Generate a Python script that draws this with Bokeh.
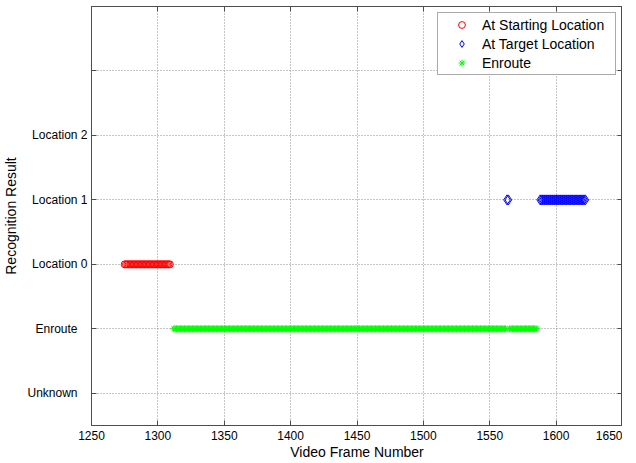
from bokeh.plotting import figure
from bokeh.models import LinearAxis, FixedTicker, Range1d, Legend, LegendItem
from bokeh.embed import file_html
from bokeh.resources import INLINE

# ---- data (frame runs: first, last frame of each consecutive run) ----
start_runs = [(1275, 1309)]
target_runs = [(1563, 1564), (1588, 1622)]
enroute_runs = [(1312, 1562), (1565, 1585)]

start_level = 1      # Location 0
target_level = 2     # Location 1
enroute_level = 0    # Enroute

y_ticks = [-1, 0, 1, 2, 3, 4]
y_tick_labels = ["Unknown\u00a0\u00a0\u00a0", "Enroute\u00a0\u00a0\u00a0", "Location 0",
                 "Location 1", "Location 2", ""]
x_ticks = [1250, 1300, 1350, 1400, 1450, 1500, 1550, 1600, 1650]

series_names = ["At Starting Location", "At Target Location", "Enroute"]


def expand(runs):
    out = []
    for a, b in runs:
        out.extend(range(a, b + 1))
    return out


FONT = "Liberation Sans"
AXC = "#4d4d4d"

p = figure(frame_width=531, frame_height=419, output_backend="svg",
           toolbar_location=None,
           x_range=Range1d(1250, 1650), y_range=Range1d(-1.5, 5),
           min_border_left=0, min_border_right=0, min_border_top=6,
           min_border_bottom=0, background_fill_color="white",
           border_fill_color="white")
p.outline_line_color = AXC
p.outline_line_width = 1

for ax, ticks in ((p.xaxis[0], x_ticks), (p.yaxis[0], y_ticks)):
    ax.ticker = FixedTicker(ticks=ticks)
    ax.major_tick_in = 5
    ax.major_tick_out = 0
    ax.minor_tick_line_color = None
    ax.axis_line_color = AXC
    ax.major_tick_line_color = AXC
    ax.major_label_text_font = FONT
    ax.major_label_text_font_size = "12px"
    ax.major_label_text_color = "black"
    ax.axis_label_text_font = FONT
    ax.axis_label_text_font_size = "14px"
    ax.axis_label_text_font_style = "normal"
    ax.axis_label_text_color = "black"

p.xaxis[0].axis_label = "Video Frame Number"
p.xaxis[0].major_label_standoff = 5
p.xaxis[0].axis_label_standoff = 1
p.yaxis[0].axis_label = "Recognition Result"
p.yaxis[0].major_label_standoff = 4
p.yaxis[0].axis_label_standoff = 5
p.yaxis[0].major_label_overrides = {t: l for t, l in zip(y_ticks, y_tick_labels)}

for loc, ticks in (("right", y_ticks), ("above", x_ticks)):
    ax = LinearAxis(ticker=FixedTicker(ticks=ticks))
    ax.major_tick_in = 5
    ax.major_tick_out = 0
    ax.minor_tick_line_color = None
    ax.axis_line_color = AXC
    ax.major_tick_line_color = AXC
    ax.major_label_text_color = None
    ax.major_label_text_font_size = "1px"
    ax.major_label_standoff = 0
    p.add_layout(ax, loc)

p.xgrid.ticker = FixedTicker(ticks=x_ticks)
p.ygrid.ticker = FixedTicker(ticks=y_ticks)
p.grid.grid_line_color = "#8c8c8c"
p.grid.grid_line_dash = "1 2"
p.grid.grid_line_width = 1

xs = expand(start_runs)
r1 = p.scatter(xs, [start_level] * len(xs), marker="circle", size=7,
               fill_color=None, line_color="#ff0000", line_width=1)
xt = expand(target_runs)
r2 = p.scatter(xt, [target_level] * len(xt), marker="diamond", size=10,
               fill_color=None, line_color="#0000ff", line_width=1)
xe = expand(enroute_runs)
r3 = p.scatter(xe, [enroute_level] * len(xe), marker="asterisk", size=7,
               fill_color=None, line_color="#00ff00", line_width=1)

legend = Legend(items=[LegendItem(label=series_names[0], renderers=[r1]),
                       LegendItem(label=series_names[1], renderers=[r2]),
                       LegendItem(label=series_names[2], renderers=[r3])],
                location="top_right", margin=6, padding=3, spacing=2,
                label_height=17, glyph_height=17, glyph_width=41,
                label_standoff=0, label_width=130, label_text_font=FONT,
                label_text_font_size="14px", label_text_color="black",
                border_line_color="#555555", border_line_width=1,
                background_fill_color="white", background_fill_alpha=1)
p.add_layout(legend, "center")

open("out.html", "w").write(file_html(p, INLINE))
